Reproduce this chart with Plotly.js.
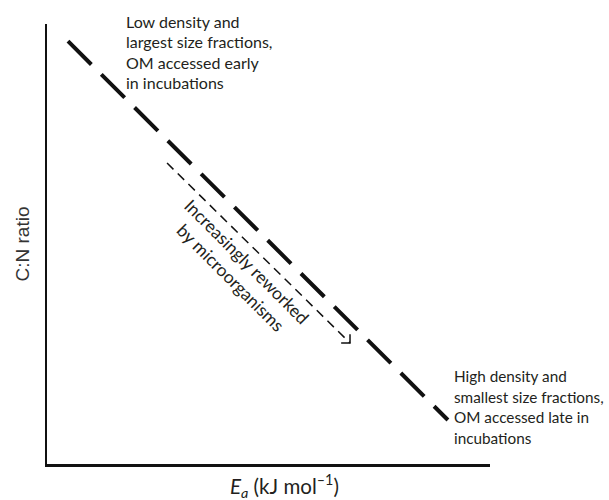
<!DOCTYPE html>
<html>
<head>
<meta charset="utf-8">
<script src="https://cdn.plot.ly/plotly-3.0.1.min.js"></script>
<style>html,body{margin:0;padding:0;background:#fff;}#chart{width:609px;height:500px;}</style>
</head>
<body>
<div id="chart"></div>
<script>
// Conceptual trend: C:N ratio declines as activation energy (Ea) rises
const trendX = [0.474, 9.05];
const trendY = [9.61, 1.0];
// Arrow: "Increasingly reworked by microorganisms"
const arrowX = [2.71, 6.84];
const arrowY = [6.84, 2.75];
const arrowLabel = ["Increasingly reworked", "by microorganisms"];
const arrowLabelPos = [4.33, 4.41];
// Corner notes
const noteEarly = ["Low density and", "largest size fractions,", "OM accessed early", "in incubations"];
const noteLate = ["High density and", "smallest size fractions,", "OM accessed late in", "incubations"];
const xTitle = "<i>E</i><sub><i>a</i></sub> (kJ mol<sup>\u20131</sup>)";
const yTitle = "C:N ratio";

const ink = "#231f20";
const headSize = 0.2;
const xe = arrowX[arrowX.length - 1], ye = arrowY[arrowY.length - 1];

const traces = [
  {x: trendX, y: trendY, mode: "lines", line: {color: "#111", width: 4, dash: "33px,14px"}, hoverinfo: "skip", showlegend: false},
  {x: arrowX, y: arrowY, mode: "lines", line: {color: "#111", width: 1.5, dash: "9px,6px"}, hoverinfo: "skip", showlegend: false},
  {x: [xe, xe, xe - headSize], y: [ye + headSize, ye, ye], mode: "lines", line: {color: "#111", width: 1.5}, hoverinfo: "skip", showlegend: false}
];

const annotations = [];
const lineGap = 20.5;
noteEarly.forEach((t, i) => annotations.push({
  text: t, xref: "paper", yref: "paper", x: 0.174, y: 1.0, xanchor: "left", yanchor: "middle",
  yshift: 3 - i * lineGap, showarrow: false, font: {family: "Lato, sans-serif", size: 16, color: ink}
}));
noteLate.forEach((t, i) => annotations.push({
  text: t, xref: "paper", yref: "paper", x: 0.9145, y: 0.0, xanchor: "left", yanchor: "middle",
  yshift: 88 - i * lineGap, showarrow: false, font: {family: "Lato, sans-serif", size: 15.3, color: ink}
}));
annotations.push({
  text: arrowLabel.join("<br>"), x: arrowLabelPos[0], y: arrowLabelPos[1], xref: "x", yref: "y",
  textangle: 45, showarrow: false, align: "center",
  font: {family: "Lato, sans-serif", size: 17.5, color: ink}
});
// x-axis title (placed as annotation to match its off-centre position)
annotations.push({
  text: xTitle, xref: "paper", yref: "paper", x: 0.537, y: 0, xanchor: "center", yanchor: "middle",
  yshift: -22, showarrow: false, font: {family: "Lato, sans-serif", size: 20.5, color: ink}
});

const layout = {
  width: 609, height: 500,
  margin: {l: 47, r: 119, t: 24, b: 36},
  paper_bgcolor: "#fff", plot_bgcolor: "#fff",
  xaxis: {range: [0, 10], showgrid: false, zeroline: false, showticklabels: false, ticks: "",
          showline: true, linecolor: "#111", linewidth: 2.5},
  yaxis: {range: [0, 10], showgrid: false, zeroline: false, showticklabels: false, ticks: "",
          showline: true, linecolor: "#111", linewidth: 2.5,
          title: {text: yTitle, font: {family: "Liberation Sans, Arial, sans-serif", size: 19, color: "#333"}, standoff: 10}},
  annotations: annotations
};

Plotly.newPlot("chart", traces, layout, {staticPlot: true, displayModeBar: false});
</script>
</body>
</html>
